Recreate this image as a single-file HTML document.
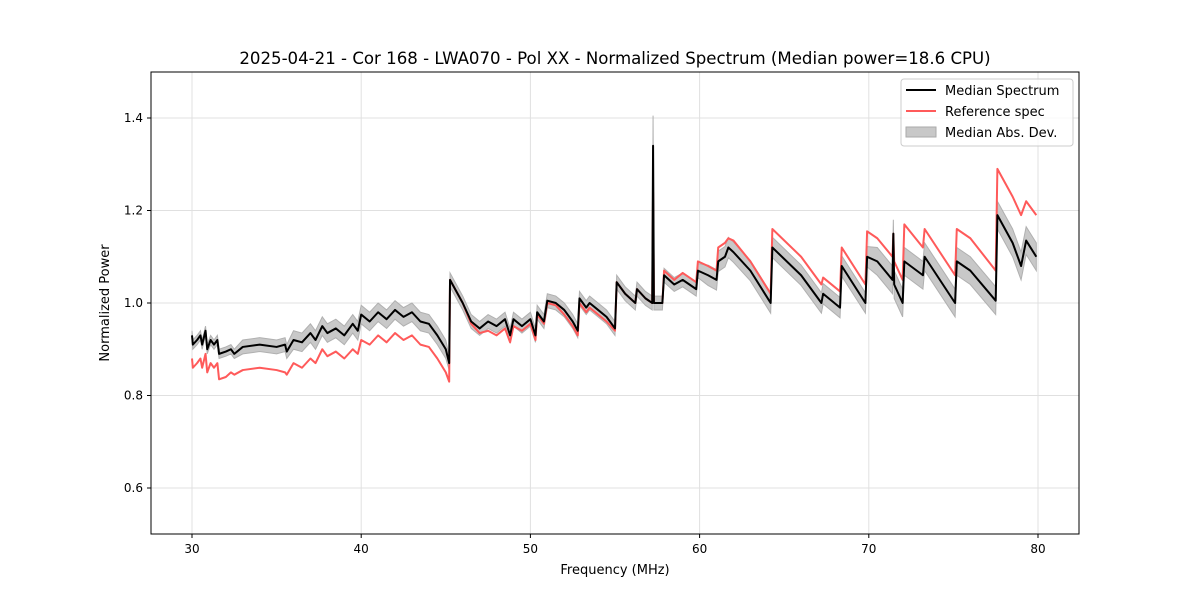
<!DOCTYPE html>
<html><head><meta charset="utf-8">
<style>
body{margin:0;background:#fff;font-family:"Liberation Sans","DejaVu Sans",sans-serif;}
svg text{font-family:"DejaVu Sans","Liberation Sans",sans-serif;}
</style></head>
<body>
<svg id="chart" width="1200" height="600" viewBox="0 0 1200 600" xmlns="http://www.w3.org/2000/svg">
<rect width="1200" height="600" fill="#fff"/>
<text x="615" y="64" font-size="16.6" text-anchor="middle">2025-04-21 - Cor 168 - LWA070 - Pol XX - Normalized Spectrum (Median power=18.6 CPU)</text>
<g id="grid"></g>
<g id="band"></g>
<g id="lines"></g>
<rect x="151" y="72" width="928" height="462" fill="none" stroke="#000" stroke-width="1"/>
<g id="ticks"></g>
<text x="615" y="574" font-size="13" text-anchor="middle">Frequency (MHz)</text>
<text transform="translate(109,303) rotate(-90)" font-size="13" text-anchor="middle">Normalized Power</text>
<g>
<rect x="901" y="79" width="172" height="67" rx="3" fill="#fff" fill-opacity="0.8" stroke="#ccc"/>
<line x1="906" y1="90" x2="936" y2="90" stroke="#000" stroke-width="2"/>
<text x="945" y="95" font-size="13">Median Spectrum</text>
<line x1="906" y1="111" x2="936" y2="111" stroke="#ff5a5a" stroke-width="2"/>
<text x="945" y="116" font-size="13">Reference spec</text>
<rect x="906" y="127" width="30" height="10" fill="#c8c8c8" stroke="#aaa"/>
<text x="945" y="137" font-size="13">Median Abs. Dev.</text>
</g>
</svg>
<script>
const freqs=[30.0,30.05,30.3,30.5,30.6,30.8,30.9,31.1,31.3,31.5,31.6,32.0,32.3,32.5,33.0,34.0,35.0,35.5,35.6,36.0,36.5,37.0,37.3,37.7,38.0,38.5,39.0,39.5,39.8,40.0,40.5,41.0,41.5,42.0,42.5,43.0,43.5,44.0,44.5,45.0,45.2,45.25,46.0,46.5,47.0,47.5,48.0,48.5,48.8,49.0,49.5,50.0,50.3,50.4,50.8,51.0,51.5,52.0,52.5,52.8,52.9,53.3,53.5,54.0,54.5,55.0,55.1,55.6,56.2,56.3,56.8,57.2,57.25,57.3,57.8,57.9,58.5,59.0,59.8,59.9,60.5,61.0,61.1,61.5,61.7,62.0,63.0,64.2,64.3,66.0,67.2,67.3,68.3,68.4,69.8,69.9,70.5,71.4,71.45,71.5,72.0,72.1,73.2,73.3,75.1,75.2,76.0,77.5,77.6,78.5,79.0,79.3,79.9];
const medianVals=[.93,.91,.92,.93,.91,.94,.90,.92,.91,.92,.89,.895,.90,.89,.905,.91,.905,.91,.895,.92,.915,.935,.92,.95,.935,.945,.93,.955,.94,.975,.96,.98,.965,.985,.97,.98,.96,.955,.93,.90,.87,1.05,1.0,.96,.945,.96,.95,.965,.93,.965,.95,.965,.93,.98,.96,1.005,1.0,.985,.96,.94,1.01,.99,1.0,.985,.97,.945,1.045,1.02,1.0,1.03,1.01,1.0,1.34,1.0,1.0,1.06,1.04,1.05,1.03,1.07,1.06,1.05,1.09,1.10,1.12,1.11,1.07,1.0,1.12,1.06,1.0,1.02,.99,1.08,1.0,1.10,1.09,1.05,1.15,1.04,1.0,1.09,1.06,1.10,1.0,1.09,1.07,1.005,1.19,1.13,1.08,1.135,1.10];
const referenceVals=[.88,.86,.87,.88,.86,.89,.85,.87,.86,.87,.835,.84,.85,.845,.855,.86,.855,.85,.845,.87,.86,.88,.87,.90,.885,.895,.88,.90,.89,.92,.91,.93,.915,.935,.92,.93,.91,.905,.88,.85,.83,1.05,1.0,.955,.935,.94,.93,.945,.915,.95,.94,.955,.92,.975,.955,1.0,.995,.975,.95,.93,1.0,.98,.99,.975,.96,.94,1.045,1.02,1.0,1.03,1.01,1.0,1.24,1.0,1.0,1.07,1.05,1.065,1.045,1.09,1.08,1.07,1.12,1.13,1.14,1.135,1.09,1.02,1.16,1.10,1.04,1.055,1.025,1.12,1.04,1.155,1.14,1.10,1.15,1.09,1.05,1.17,1.12,1.16,1.06,1.16,1.14,1.07,1.29,1.23,1.19,1.22,1.19];
const madVals=freqs.map((f,i)=>i===72?0.065:(f<33?0.01:f<36?0.015:f<45.2?0.02:f<60?0.015:f<70?0.022:0.03));
const xTicks=[30,40,50,60,70,80];
const yTicks=[0.6,0.8,1.0,1.2,1.4];
const X=f=>192+(f-30)*16.92;
const Y=v=>303-(v-1)*462.5;
const NS='http://www.w3.org/2000/svg';
function mk(tag,attrs,parent){const e=document.createElementNS(NS,tag);for(const k in attrs)e.setAttribute(k,attrs[k]);document.getElementById(parent).appendChild(e);return e;}
xTicks.forEach(t=>{
 const g=mk('line',{x1:X(t),x2:X(t),y1:72,y2:534,stroke:'#e0e0e0','stroke-width':1},'grid');
 
 
 mk('line',{x1:X(t),x2:X(t),y1:534,y2:538,stroke:'#000'},'ticks');
 const tx=mk('text',{x:X(t),y:553,'font-size':12,'text-anchor':'middle'},'ticks');tx.textContent=t;
 
 
});
yTicks.forEach(t=>{
 const g=mk('line',{x1:151,x2:1079,y1:Y(t),y2:Y(t),stroke:'#e0e0e0','stroke-width':1},'grid');
 
 
 mk('line',{x1:147,x2:151,y1:Y(t),y2:Y(t),stroke:'#000'},'ticks');
 const tx=mk('text',{x:143,y:Y(t)+4,'font-size':12,'text-anchor':'end'},'ticks');tx.textContent=t.toFixed(1);
 
 
});
let up=freqs.map((f,i)=>X(f)+','+Y(medianVals[i]+madVals[i]));
let dn=freqs.map((f,i)=>X(f)+','+Y(medianVals[i]-madVals[i])).reverse();
const band=mk('polygon',{points:up.concat(dn).join(' '),fill:'#c8c8c8',stroke:'#b0b0b0','stroke-width':1},'band');


const ref=mk('polyline',{points:freqs.map((f,i)=>X(f)+','+Y(referenceVals[i])).join(' '),fill:'none',stroke:'#ff5a5a','stroke-width':2,'stroke-linejoin':'round'},'lines');


const med=mk('polyline',{points:freqs.map((f,i)=>X(f)+','+Y(medianVals[i])).join(' '),fill:'none',stroke:'#000','stroke-width':2,'stroke-linejoin':'round'},'lines');


</script>
</body></html>
